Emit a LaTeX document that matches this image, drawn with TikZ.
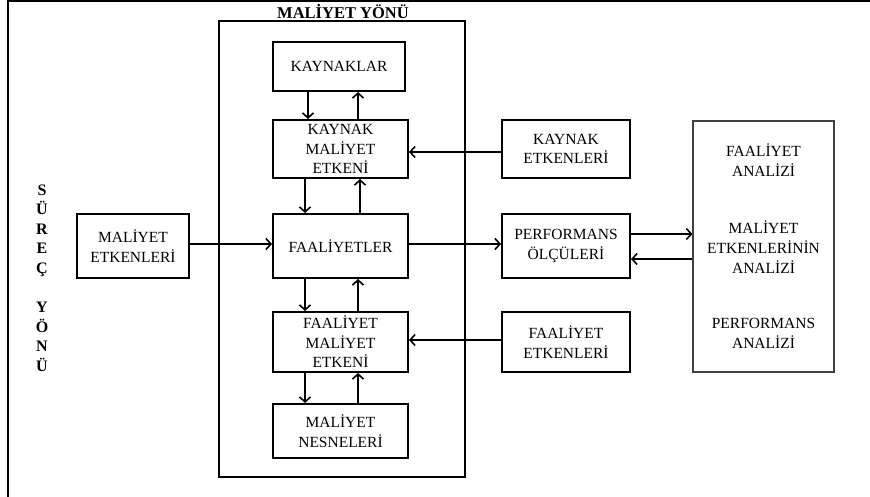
\documentclass[tikz,border=0pt]{standalone}
\usepackage{fontspec}
\setmainfont{Liberation Serif}
\usetikzlibrary{arrows.meta}
\tikzset{
  box/.style={draw=black, line width=2pt, rectangle, align=center, inner sep=2pt,
    font=\fontsize{15.5}{19.5}\selectfont},
  arr/.style={line width=1.6pt, -{Straight Barb[length=5pt,width=11pt,line width=1.6pt]}},
  antext/.style={font=\fontsize{15.5}{20}\selectfont, align=center},
}
\begin{document}
\begin{tikzpicture}[x=1pt,y=-1pt]
\useasboundingbox (0,0) rectangle (870,497);
% outer frame (top and left edges)
\draw[line width=2.5pt] (8,497) -- (8,1.25) -- (870,1.25);
% cost direction frame
\node[draw, line width=2pt, minimum width=246pt, minimum height=456pt, inner sep=0pt] (myon) at (342,249) {};
\node[font=\fontsize{16.5}{18}\selectfont\bfseries, inner sep=0pt] (myont) at (343,12) {MAL\.IYET Y\"ON\"U};
% process direction label
\node[font=\fontsize{16}{19.6}\selectfont\bfseries, align=center, inner sep=0pt] (syon) at (42,278)
  {S\\\"U\\R\\E\\\c{C}\\[19.6pt]Y\\\"O\\N\\\"U};
% boxes
\node[box, minimum width=132pt, minimum height=49pt] (kay) at (339,66.5) {KAYNAKLAR};
\node[box, minimum width=135pt, minimum height=58pt] (kme) at (340.5,149) {KAYNAK\\MAL\.IYET\\ETKEN\.I};
\node[box, minimum width=135pt, minimum height=64pt] (faal) at (340.5,246) {FAAL\.IYETLER};
\node[box, minimum width=135pt, minimum height=60pt] (fme) at (340.5,342) {FAAL\.IYET\\MAL\.IYET\\ETKEN\.I};
\node[box, minimum width=135pt, minimum height=54pt] (mn) at (340.5,431) {MAL\.IYET\\NESNELER\.I};
\node[box, minimum width=112pt, minimum height=64pt] (me) at (133,246) {MAL\.IYET\\ETKENLER\.I};
\node[box, minimum width=128pt, minimum height=58pt] (ke) at (566,149) {KAYNAK\\ETKENLER\.I};
\node[box, minimum width=128pt, minimum height=64pt] (perf) at (566,246) {PERFORMANS\\\"OL\c{C}\"ULER\.I};
\node[box, minimum width=128pt, minimum height=60pt] (fe) at (566,342) {FAAL\.IYET\\ETKENLER\.I};
% analysis box
\node[draw=black!75, line width=1.2pt, minimum width=141pt, minimum height=251pt, inner sep=0pt] (anal) at (763.5,246.5) {};
\node[antext] (an1) at (763.5,160.5) {FAAL\.IYET\\ANAL\.IZ\.I};
\node[antext] (an2) at (763.5,247) {MAL\.IYET\\ETKENLER\.IN\.IN\\ANAL\.IZ\.I};
\node[antext] (an3) at (763.5,333.5) {PERFORMANS\\ANAL\.IZ\.I};
% vertical arrows
\draw[arr] ([xshift=-31pt]kay.south) -- ([xshift=-31pt]kay.south |- kme.north);
\draw[arr] ([xshift=17.5pt]kme.north) -- ([xshift=17.5pt]kme.north |- kay.south);
\draw[arr] ([xshift=-35.5pt]kme.south) -- ([xshift=-35.5pt]kme.south |- faal.north);
\draw[arr] ([xshift=19.5pt]faal.north) -- ([xshift=19.5pt]faal.north |- kme.south);
\draw[arr] ([xshift=-35.5pt]faal.south) -- ([xshift=-35.5pt]faal.south |- fme.north);
\draw[arr] ([xshift=17.5pt]fme.north) -- ([xshift=17.5pt]fme.north |- faal.south);
\draw[arr] ([xshift=-35.5pt]fme.south) -- ([xshift=-35.5pt]fme.south |- mn.north);
\draw[arr] ([xshift=17.5pt]mn.north) -- ([xshift=17.5pt]mn.north |- fme.south);
% horizontal arrows
\draw[arr] ([yshift=2pt]me.east) -- ([yshift=2pt]me.east -| faal.west);
\draw[arr] ([yshift=-3pt]ke.west) -- ([yshift=-3pt]ke.west -| kme.east);
\draw[arr] ([yshift=2pt]faal.east) -- ([yshift=2pt]faal.east -| perf.west);
\draw[arr] ([yshift=12pt]perf.east) -- ([yshift=12pt]perf.east -| anal.west);
\draw[arr] ([yshift=-13pt]anal.west |- perf.east) -- ([yshift=-13pt]perf.east);
\draw[arr] ([yshift=2pt]fe.west) -- ([yshift=2pt]fe.west -| fme.east);
\end{tikzpicture}
\end{document}
